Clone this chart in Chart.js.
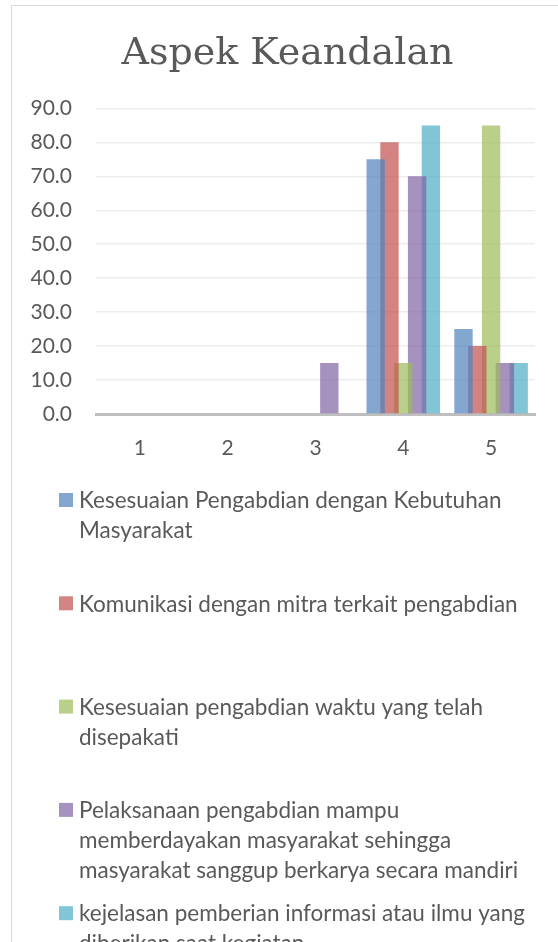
<!DOCTYPE html>
<html>
<head>
<meta charset="utf-8">
<script src="https://cdn.jsdelivr.net/npm/chart.js@4.4.1/dist/chart.umd.min.js"></script>
<style>
  html, body { margin: 0; padding: 0; background: #fff; overflow: hidden; }
  #frame {
    position: absolute; left: 11px; top: 5px; width: 600px; height: 1000px;
    border: 1.5px solid #d9d9d9; box-sizing: border-box;
  }
  #wrap { position: absolute; left: 0; top: 0; width: 558px; height: 942px; }
</style>
</head>
<body>
<div id="frame"></div>
<div id="wrap"><canvas id="chart"></canvas></div>
<script>
// Chart data
const chartTitle = "Aspek Keandalan";
const categories = ["1", "2", "3", "4", "5"];

const kesesuaianKebutuhan = [0, 0, 0, 75, 25];
const komunikasiMitra = [0, 0, 0, 80, 20];
const kesesuaianWaktu = [0, 0, 0, 15, 85];
const pemberdayaanMasyarakat = [0, 0, 15, 70, 15];
const kejelasanInformasi = [0, 0, 0, 85, 15];

// legend labels, already broken into lines as in the original
const seriesLabels = [
  ["Kesesuaian Pengabdian dengan Kebutuhan", "Masyarakat"],
  ["Komunikasi dengan mitra terkait pengabdian"],
  ["Kesesuaian pengabdian waktu yang telah", "disepakati"],
  ["Pelaksanaan pengabdian mampu", "memberdayakan masyarakat sehingga", "masyarakat sanggup berkarya secara mandiri"],
  ["kejelasan pemberian informasi atau ilmu yang", "diberikan saat kegiatan"]
];

const yMin = 0;
const yMax = 90;
const yStep = 10;

// Office style colours, a bit transparent so overlaps show
const seriesColors = [
  "rgba(79, 129, 189, 0.7)",
  "rgba(192, 80, 77, 0.7)",
  "rgba(155, 187, 89, 0.7)",
  "rgba(128, 100, 162, 0.7)",
  "rgba(75, 172, 198, 0.7)"
];

const seriesValues = [
  kesesuaianKebutuhan,
  komunikasiMitra,
  kesesuaianWaktu,
  pemberdayaanMasyarakat,
  kejelasanInformasi
];

const textColor = "#595959";
const sansFont = "Lato, 'Open Sans', sans-serif";

// Title sits over the middle of the chart frame, not the plot
const frameTitle = {
  id: "frameTitle",
  afterDraw(chart) {
    const ctx = chart.ctx;
    ctx.save();
    ctx.font = "38px 'DejaVu Serif', serif";
    ctx.fillStyle = textColor;
    ctx.textAlign = "center";
    ctx.textBaseline = "middle";
    ctx.fillText(chartTitle, 287.5, 54.5);
    ctx.restore();
  }
};

// Draws the legend below the plot, one block per series with wrapped text
const blockLegend = {
  id: "blockLegend",
  afterDraw(chart) {
    const ctx = chart.ctx;
    ctx.save();
    ctx.font = "22.5px " + sansFont;
    ctx.fillStyle = textColor;
    ctx.textBaseline = "middle";
    ctx.textAlign = "left";
    const startY = 500;
    const blockStep = 103.3;
    const lineStep = 30;
    chart.data.datasets.forEach((ds, i) => {
      const y = startY + i * blockStep;
      ctx.fillStyle = ds.backgroundColor;
      ctx.fillRect(59, y - 7, 14, 14);
      ctx.fillStyle = textColor;
      ds.legendLines.forEach((line, j) => {
        ctx.fillText(line, 79, y + 1 + j * lineStep);
      });
    });
    ctx.restore();
  }
};

const datasets = seriesValues.map((values, i) => ({
  label: seriesLabels[i].join(" "),
  legendLines: seriesLabels[i],
  data: values,
  backgroundColor: seriesColors[i],
  borderWidth: 0,
  barPercentage: 1.33,
  categoryPercentage: 0.786
}));

const ctx = document.getElementById("chart").getContext("2d");
new Chart(ctx, {
  type: "bar",
  data: {
    labels: categories,
    datasets: datasets
  },
  options: {
    responsive: true,
    maintainAspectRatio: false,
    animation: false,
    layout: {
      padding: { left: 0, right: 23, top: 108.4, bottom: 478 }
    },
    plugins: {
      legend: { display: false },
      tooltip: { enabled: false },
      title: { display: false }
    },
    scales: {
      x: {
        grid: { display: false, drawTicks: false },
        border: { display: true, color: "#bfbfbf", width: 3 },
        ticks: {
          color: textColor,
          font: { family: sansFont, size: 21 },
          padding: 22
        },
        afterFit(scale) { scale.height = 50; }
      },
      y: {
        min: yMin,
        max: yMax,
        grid: { color: "#ededed", lineWidth: 1.5, drawTicks: false },
        border: { display: false },
        ticks: {
          stepSize: yStep,
          color: textColor,
          font: { family: sansFont, size: 21 },
          padding: 24,
          callback: v => v.toFixed(1)
        },
        afterFit(scale) { scale.width = 96; }
      }
    }
  },
  plugins: [frameTitle, blockLegend]
});
</script>
</body>
</html>
